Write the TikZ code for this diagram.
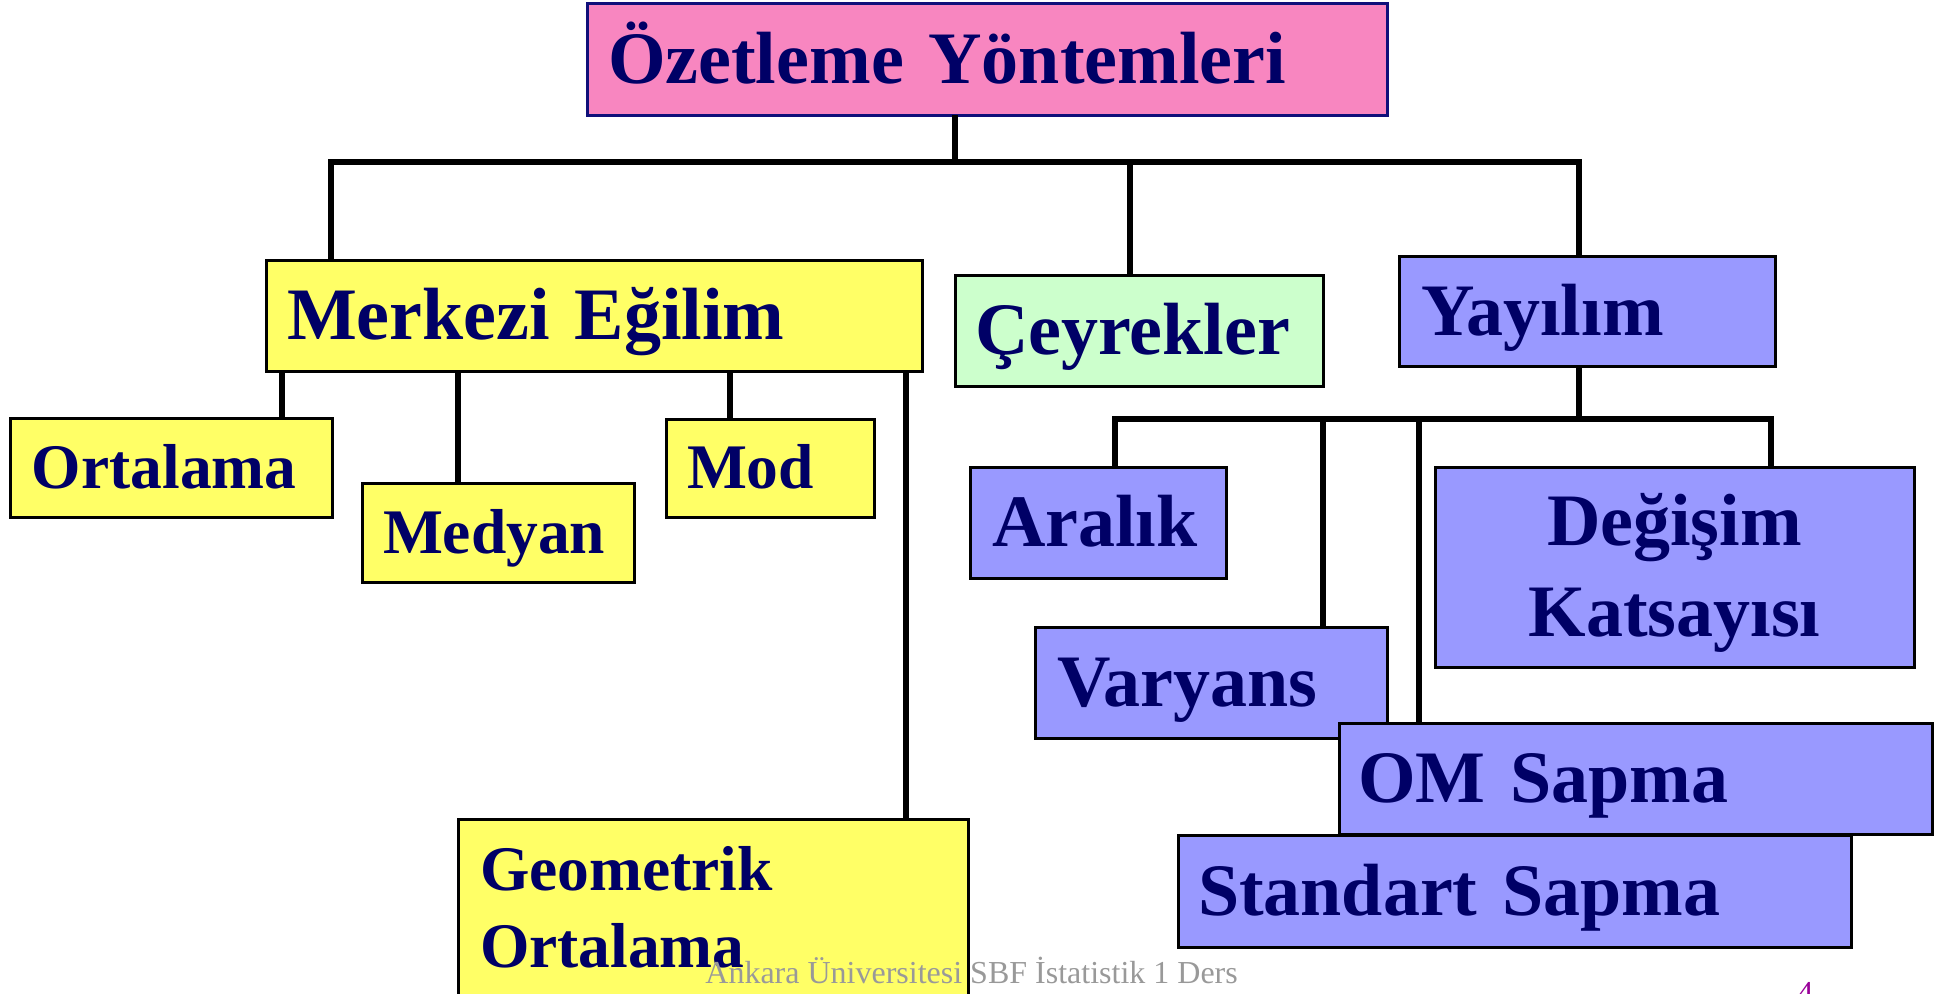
\documentclass[tikz,border=0pt]{standalone}
\usepackage{fontspec}
\setmainfont{Liberation Serif}
\definecolor{navytxt}{HTML}{000066}
\definecolor{navyline}{HTML}{10107A}
\definecolor{pinkfill}{HTML}{F886C0}
\definecolor{yellowfill}{HTML}{FFFF66}
\definecolor{greenfill}{HTML}{CCFFCC}
\definecolor{bluefill}{HTML}{9999FF}
\definecolor{footgray}{HTML}{999999}
\definecolor{pagepurple}{HTML}{990099}
\tikzset{
  box/.style={draw=black, line width=1.5pt, inner ysep=0pt, outer sep=0pt,
    anchor=north west, text=navytxt, align=left, text depth=0pt},
  big/.style={font=\fontsize{37}{45.5}\selectfont\bfseries, text height=24.2pt},
  small/.style={font=\fontsize{31.75}{38.5}\selectfont\bfseries, text height=20.8pt},
  conn/.style={draw=black, line width=2.9pt},
  hbar/.style={draw=black, line width=3.3pt, line cap=rect},
}
\begin{document}
\begin{tikzpicture}[x=0.5pt, y=-0.5pt]
\useasboundingbox (0,0) rectangle (1957,993);
% top level
\node[box, big, draw=navyline, fill=pinkfill, minimum width=400pt, minimum height=56pt,
  inner xsep=10.5pt, text width=379pt] (title) at (587,3) {Özetleme Yöntemleri};
% second level
\node[box, big, fill=yellowfill, minimum width=328pt, minimum height=55.5pt,
  inner xsep=10.5pt, text width=307pt] (merkezi) at (266,260) {Merkezi Eğilim};
\node[box, big, fill=greenfill, minimum width=184pt, minimum height=55.5pt,
  inner xsep=10pt, text width=164pt] (ceyrek) at (955,275) {Çeyrekler};
\node[box, big, fill=bluefill, minimum width=188pt, minimum height=55pt,
  inner xsep=11pt, text width=166pt] (yayilim) at (1399,256) {Yayılım};
% Merkezi children
\node[box, small, fill=yellowfill, minimum width=161pt, minimum height=49.5pt,
  inner xsep=11pt, text width=139pt] (ortalama) at (10,418) {Ortalama};
\node[box, small, fill=yellowfill, minimum width=136pt, minimum height=49.5pt,
  inner xsep=10.5pt, text width=115pt] (medyan) at (362,483) {Medyan};
\node[box, small, fill=yellowfill, minimum width=104pt, minimum height=49pt,
  inner xsep=10.5pt, text width=83pt] (mod) at (666,419) {Mod};
\node[box, small, fill=yellowfill, minimum width=255pt, minimum height=89pt,
  inner xsep=11pt, text width=233pt, text depth=38.5pt] (geo) at (458,819) {Geometrik\\Ortalama};
% Yayilim children
\node[box, big, fill=bluefill, minimum width=128pt, minimum height=55.5pt,
  inner xsep=11pt, text width=106pt] (aralik) at (970,467) {Aralık};
\node[box, big, fill=bluefill, minimum width=239.5pt, minimum height=100pt,
  inner xsep=10pt, text width=219.5pt, align=center, text depth=45.5pt] (degisim) at (1435,467) {Değişim\\Katsayısı};
\node[box, big, fill=bluefill, minimum width=176pt, minimum height=55.5pt,
  inner xsep=11pt, text width=154pt] (varyans) at (1035,627) {Varyans};
\node[box, big, fill=bluefill, minimum width=296.5pt, minimum height=55.5pt,
  inner xsep=9.5pt, text width=277.5pt] (omsapma) at (1339,723) {OM Sapma};
\node[box, big, fill=bluefill, minimum width=336.5pt, minimum height=56pt,
  inner xsep=10pt, text width=316.5pt] (standart) at (1178,835) {Standart Sapma};
% junction coordinates
\coordinate (tL) at (331,162);
\coordinate (tM) at (955,162);
\coordinate (tC) at (1130,162);
\coordinate (tR) at (1579,162);
\coordinate (m1) at (282,371);
\coordinate (m2) at (458,371);
\coordinate (m3) at (730,371);
\coordinate (m4) at (906,371);
\coordinate (yL) at (1115,419);
\coordinate (yV) at (1323,419);
\coordinate (yO) at (1419,419);
\coordinate (yR) at (1771,419);
% top connectors
\draw[conn] (title.south -| tM) -- (tM);
\draw[hbar] (tL) -- (tR);
\draw[conn] (tL) -- (tL |- merkezi.north);
\draw[conn] (tC) -- (tC |- ceyrek.north);
\draw[conn] (tR) -- (tR |- yayilim.north);
% Merkezi connectors
\draw[conn] (m1) -- (m1 |- ortalama.north);
\draw[conn] (m2) -- (m2 |- medyan.north);
\draw[conn] (m3) -- (m3 |- mod.north);
\draw[conn] (m4) -- (m4 |- geo.north);
% Yayilim connectors
\draw[conn] (yayilim.south -| tR) -- (tR |- yL);
\draw[hbar] (yL) -- (yR);
\draw[conn] (yL) -- (yL |- aralik.north);
\draw[conn] (yV) -- (yV |- varyans.north);
\draw[conn] (yO) -- (yO |- omsapma.north);
\draw[conn] (yR) -- (yR |- degisim.north);
% footer
\node[anchor=base west, inner sep=0pt, text=footgray, font=\fontsize{16}{19}\selectfont]
  (footer) at (705,983) {Ankara Üniversitesi SBF İstatistik 1 Ders};
\node[anchor=base west, inner sep=0pt, text=pagepurple, font=\fontsize{16}{19}\selectfont]
  (pnum) at (1797,1003) {4};
\end{tikzpicture}
\end{document}
